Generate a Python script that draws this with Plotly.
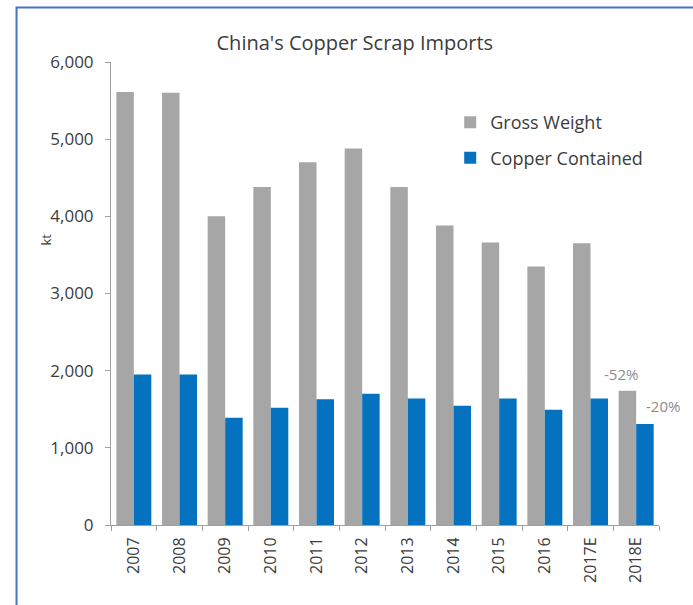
import plotly.graph_objects as go

years = ["2007", "2008", "2009", "2010", "2011", "2012", "2013", "2014", "2015", "2016", "2017E", "2018E"]
gross_weight = [5610, 5600, 4000, 4380, 4700, 4880, 4380, 3880, 3660, 3350, 3650, 1740]
copper_contained = [1950, 1950, 1390, 1520, 1630, 1700, 1640, 1545, 1640, 1495, 1640, 1310]
change_labels = ["-52%", "-20%"]
y_ticks = [0, 1000, 2000, 3000, 4000, 5000, 6000]

GRAY = "#A6A6A6"
BLUE = "#0572C0"
TEXT = "#3C3C3C"
FONT = "Open Sans"

fig = go.Figure()
fig.add_trace(go.Bar(x=years, y=gross_weight, name="Gross Weight",
                     marker=dict(color=GRAY, line=dict(width=0)), legendgroup="a"))
fig.add_trace(go.Bar(x=years, y=copper_contained, name="Copper Contained",
                     marker=dict(color=BLUE, line=dict(width=0)), legendgroup="b"))

fig.update_layout(
    width=693, height=605,
    margin=dict(l=111, r=34, t=62, b=80),
    paper_bgcolor="white", plot_bgcolor="white",
    barmode="group", bargap=0.234, bargroupgap=0,
    font=dict(family=FONT, color=TEXT, size=14),
    title=dict(text="China's Copper Scrap Imports", x=0.512, xanchor="center",
               y=0.929, yanchor="middle", font=dict(size=20, color=TEXT, family=FONT)),
    legend=dict(x=0.619, y=0.909, xanchor="left", yanchor="top",
                font=dict(size=18, color=TEXT), traceorder="grouped",
                tracegroupgap=9, bgcolor="rgba(0,0,0,0)"),
    showlegend=True,
)

fig.update_yaxes(range=[0, 6000], tickvals=y_ticks, tickformat=",", showgrid=False,
                 showline=True, linecolor="#A0A0A0", linewidth=1,
                 ticks="outside", ticklen=5, tickcolor="#A0A0A0",
                 ticklabelstandoff=8,
                 tickfont=dict(size=17, color=TEXT), zeroline=False)
fig.update_xaxes(type="category", range=[-0.5, len(years) - 0.5], tickangle=-90, showgrid=False,
                 showline=True, linecolor="#A0A0A0", linewidth=1,
                 ticks="outside", tickson="boundaries", ticklen=5, tickcolor="#A0A0A0",
                 ticklabelstandoff=5,
                 tickfont=dict(size=16, color=TEXT))

fig.add_annotation(xref="paper", yref="paper", x=-0.139, y=0.616, text="kt",
                   showarrow=False, textangle=-90, font=dict(size=13, color=TEXT))

fig.add_annotation(x=years[-1], y=gross_weight[-1], text=change_labels[0], showarrow=False,
                   xshift=-15, yshift=17, yanchor="middle",
                   font=dict(size=15, color="#8C8C8C"))
fig.add_annotation(x=years[-1], y=copper_contained[-1], text=change_labels[1], showarrow=False,
                   xshift=27, yshift=18, yanchor="middle",
                   font=dict(size=15, color="#8C8C8C"))

# outer frame
fig.add_shape(type="rect", xref="paper", yref="paper",
              x0=-0.1724, x1=1.2, y0=-0.3, y1=1.1177,
              line=dict(color="#4472C4", width=2), fillcolor="rgba(0,0,0,0)", layer="above")

fig.write_html("out.html", config={"displayModeBar": False},
               post_script="document.body.style.margin='0';")
